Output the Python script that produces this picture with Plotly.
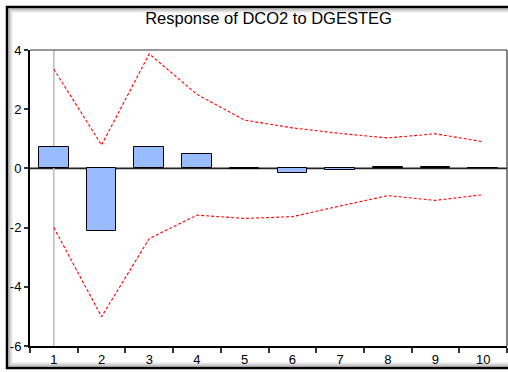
import plotly.graph_objects as go

periods = [1, 2, 3, 4, 5, 6, 7, 8, 9, 10]
response = [0.71, -2.11, 0.74, 0.49, -0.02, -0.15, -0.07, 0.04, 0.04, 0.0]
upper = [3.35, 0.79, 3.87, 2.50, 1.63, 1.37, 1.18, 1.03, 1.17, 0.90]
lower = [-2.00, -5.01, -2.37, -1.58, -1.69, -1.63, -1.27, -0.92, -1.08, -0.89]
x_labels = [str(p) for p in periods]
y_ticks = [-6, -4, -2, 0, 2, 4]

fig = go.Figure()
fig.add_trace(go.Bar(x=periods, y=response, width=0.62,
                     marker=dict(color="#99BBFF", line=dict(color="black", width=1)),
                     showlegend=False))
fig.add_trace(go.Scatter(x=periods, y=upper, mode="lines",
                         line=dict(color="#FF0000", width=1.1, dash="3px,2px"), showlegend=False))
fig.add_trace(go.Scatter(x=periods, y=lower, mode="lines",
                         line=dict(color="#FF0000", width=1.1, dash="3px,2px"), showlegend=False))

font = "Liberation Sans, Arial, sans-serif"
fig.update_layout(
    width=508, height=372,
    margin=dict(l=30, r=1, t=50, b=26),
    paper_bgcolor="white", plot_bgcolor="white",
    title=dict(text="Response of DCO2 to DGESTEG", x=0.5, xref="paper", xanchor="center",
               y=1 - 18 / 372, yanchor="middle", font=dict(family=font, size=16.5, color="black")),
    font=dict(family=font, size=13, color="black"),
    bargap=0,
    xaxis=dict(range=[0.5, 10.5], tickvals=periods, ticktext=x_labels, ticks="",
               showgrid=False, zeroline=False, showline=True, linecolor="black", linewidth=2,
               mirror=False,
               minor=dict(tick0=0.5, dtick=1, ticks="outside", ticklen=5, tickwidth=1.5,
                          tickcolor="#333333", showgrid=False),
               tickfont=dict(family=font, size=13)),
    yaxis=dict(range=[-6, 4], tickvals=y_ticks, ticktext=[str(v) for v in y_ticks],
               ticks="outside", ticklen=4, tickwidth=1.5, tickcolor="#333333",
               showgrid=False, zeroline=False, showline=True, linecolor="black", linewidth=2,
               tickfont=dict(family=font, size=13)),
)

# top/right thinner border of the plot area
fig.add_shape(type="line", xref="paper", yref="paper", x0=0, x1=1, y0=1, y1=1,
              line=dict(color="#333333", width=1.2))
fig.add_shape(type="line", xref="paper", yref="paper", x0=1, x1=1, y0=0, y1=1,
              line=dict(color="#333333", width=1.2))
# zero line and vertical reference at period 1
fig.add_shape(type="line", xref="paper", yref="y", x0=0, x1=1, y0=0, y1=0,
              line=dict(color="#222222", width=1.8), layer="below")
fig.add_shape(type="line", xref="x", yref="paper", x0=1, x1=1, y0=0, y1=1,
              line=dict(color="#BBBBBB", width=1.5), layer="below")

# outer frame with soft inner shadow
pw, ph = 477, 296
def px(x):
    return (x - 30) / pw
def py(y):
    return (346 - y) / ph
for off, col in [(5, "rgba(0,0,0,0.04)"), (4, "rgba(0,0,0,0.07)"), (3, "rgba(0,0,0,0.10)"), (2, "rgba(0,0,0,0.15)")]:
    fig.add_shape(type="rect", xref="paper", yref="paper",
                  x0=px(7 + off), x1=px(512), y0=py(7 + off), y1=py(368 - off),
                  line=dict(color=col, width=2))
fig.add_shape(type="rect", xref="paper", yref="paper",
              x0=px(7), x1=px(512), y0=py(7), y1=py(368),
              line=dict(color="black", width=2.5))

fig.write_html("out.html", config={"displayModeBar": False},
               post_script="document.body.style.margin='0';document.body.style.padding='0';")
